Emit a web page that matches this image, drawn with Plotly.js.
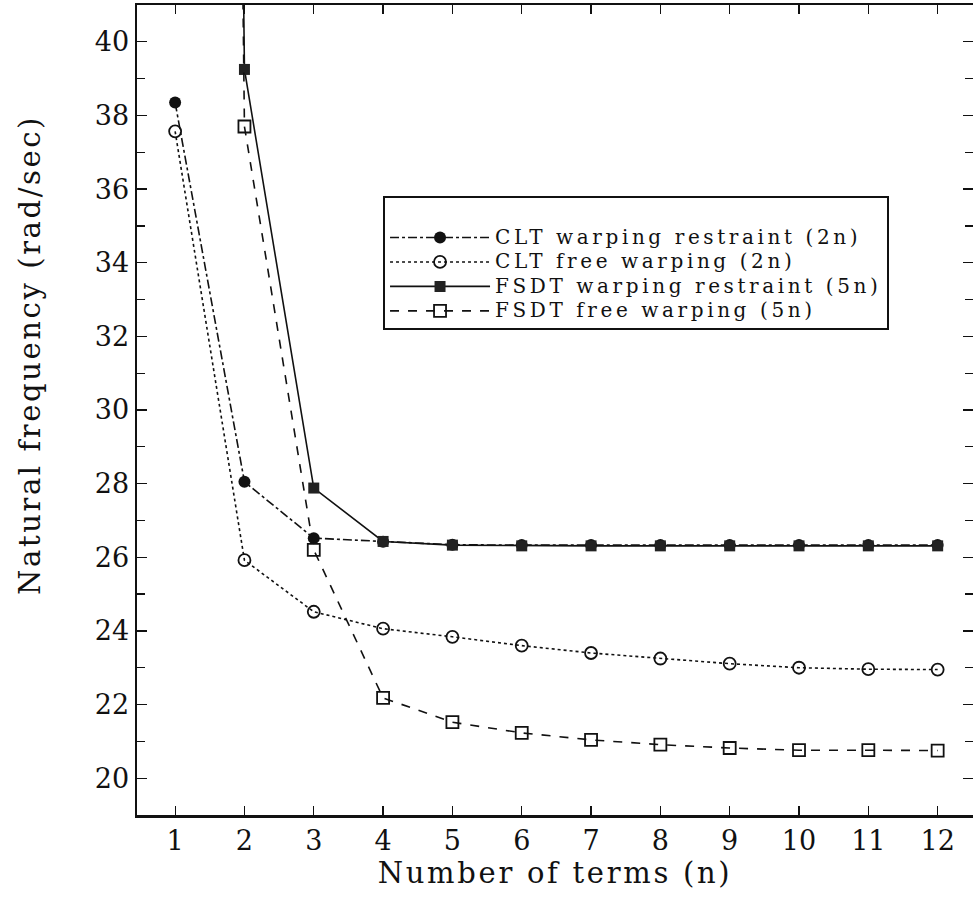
<!DOCTYPE html>
<html>
<head>
<meta charset="utf-8">
<script src="https://cdn.plot.ly/plotly-3.0.1.min.js"></script>
<style>
html,body{margin:0;padding:0;background:#fff;overflow:hidden}
.legendtext{letter-spacing:3.6px;font-size:20px !important}
.xtitle{letter-spacing:2.7px;transform:translate(0px,-6px)}
.annotation-text{letter-spacing:2.6px}
</style>
</head>
<body>
<div id="chart" style="width:973px;height:903px"></div>
<script>
const terms = [1,2,3,4,5,6,7,8,9,10,11,12];
const cltRestraint = [38.35,28.05,26.52,26.42,26.34,26.33,26.33,26.33,26.33,26.33,26.33,26.33];
const cltFree = [37.57,25.92,24.52,24.06,23.84,23.6,23.4,23.25,23.11,23.0,22.96,22.95];
const fsdtRestraint = [200,39.25,27.88,26.43,26.33,26.31,26.31,26.31,26.31,26.31,26.31,26.31];
const fsdtFree = [200,37.7,26.2,22.18,21.52,21.23,21.04,20.91,20.82,20.76,20.76,20.75];
const names = ["CLT warping restraint (2n)","CLT free warping (2n)","FSDT warping restraint (5n)","FSDT free warping (5n)"];
const xTitle = "Number of terms (n)";
const yTitle = "Natural frequency (rad/sec)";

const font = "DejaVu Serif, Liberation Serif, serif";
const traces = [
  {x: terms, y: cltRestraint, name: names[0], mode: "lines+markers",
   line: {color: "#111", width: 1.6, dash: "dashdot"},
   marker: {symbol: "circle", size: 12, color: "#111"}},
  {x: terms, y: cltFree, name: names[1], mode: "lines+markers",
   line: {color: "#111", width: 1.6, dash: "dot"},
   marker: {symbol: "circle-open", size: 12, color: "#111", line: {width: 1.8}}},
  {x: terms, y: fsdtRestraint, name: names[2], mode: "lines+markers",
   line: {color: "#111", width: 1.6, dash: "solid"},
   marker: {symbol: "square", size: 11, color: "#222"}},
  {x: terms, y: fsdtFree, name: names[3], mode: "lines+markers",
   line: {color: "#111", width: 1.6, dash: "dash"},
   marker: {symbol: "square-open", size: 12, color: "#111", line: {width: 1.8}}}
];

const layout = {
  width: 973, height: 903,
  margin: {l: 137, r: 0, t: 5, b: 88},
  paper_bgcolor: "#fff", plot_bgcolor: "#fff",
  font: {family: font, color: "#111", size: 22},
  showlegend: true,
  legend: {x: 0.2943, y: 0.764, xanchor: "left", yanchor: "top",
    bordercolor: "#111", borderwidth: 2, bgcolor: "#fff",
    font: {family: font, size: 16.5, color: "#111"},
    title: {text: " ", font: {family: font, size: 17, color: "#111"}},
    tracegroupgap: 0, itemwidth: 100},
  xaxis: {range: [0.45, 12.51], dtick: 1, tick0: 1, showgrid: false, zeroline: false,
    showline: true, linecolor: "#111", linewidth: 2.5, mirror: "ticks",
    ticks: "inside", ticklen: 9, tickwidth: 1.2, tickcolor: "#111",
    tickfont: {family: font, size: 27, color: "#111"},
    title: {text: xTitle, font: {family: font, size: 29, color: "#111"}, standoff: 2}},
  yaxis: {range: [19, 41], dtick: 2, tick0: 20, showgrid: false, zeroline: false,
    showline: true, linecolor: "#111", linewidth: 2.5, mirror: "ticks",
    ticks: "inside", ticklen: 10, tickwidth: 1.2, tickcolor: "#111",
    minor: {dtick: 1, ticks: "inside", ticklen: 8, tickwidth: 1.2, tickcolor: "#111", showgrid: false},
    tickfont: {family: font, size: 27, color: "#111"}},
  annotations: [{text: yTitle, xref: "paper", yref: "paper", x: -0.128, y: 0.568,
    xanchor: "center", yanchor: "middle", textangle: -90, showarrow: false,
    font: {family: font, size: 29, color: "#111"}}]
};
Plotly.newPlot("chart", traces, layout, {displayModeBar: false, staticPlot: true});
</script>
</body>
</html>
